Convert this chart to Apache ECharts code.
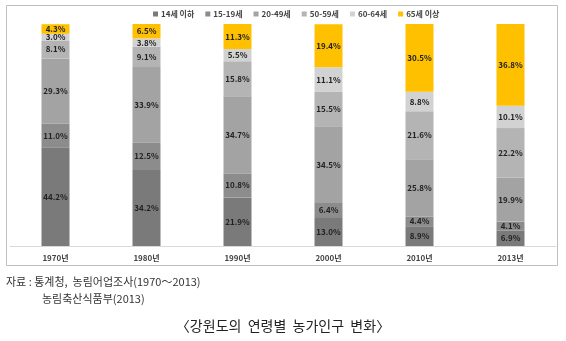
<!DOCTYPE html>
<html><head><meta charset="utf-8">
<script src="https://cdn.jsdelivr.net/npm/echarts@6/dist/echarts.min.js"></script>
<style>html,body{margin:0;padding:0;background:#fff}#c{width:566px;height:341px}</style>
</head><body><div id="c"></div>
<script>
const categories = ['1970년','1980년','1990년','2000년','2010년','2013년'];
const seriesNames = ['14세 이하','15-19세','20-49세','50-59세','60-64세','65세 이상'];
const age14 = [44.2, 34.2, 21.9, 13.0, 8.9, 6.9];
const age15_19 = [11.0, 12.5, 10.8, 6.4, 4.4, 4.1];
const age20_49 = [29.3, 33.9, 34.7, 34.5, 25.8, 19.9];
const age50_59 = [8.1, 9.1, 15.8, 15.5, 21.6, 22.2];
const age60_64 = [3.0, 3.8, 5.5, 11.1, 8.8, 10.1];
const age65 = [4.3, 6.5, 11.3, 19.4, 30.5, 36.8];
const values = [age14, age15_19, age20_49, age50_59, age60_64, age65];
const colors = ['#7a7a7a','#8c8c8c','#a3a3a3','#b4b4b4','#d2d2d2','#ffc000'];
const font = '"Noto Sans CJK KR", "Noto Sans", sans-serif';

const chart = echarts.init(document.getElementById('c'));
chart.setOption({
  animation: false,
  textStyle: { fontFamily: font },
  legend: {
    top: 5, left: 148, itemWidth: 5, itemHeight: 5, itemGap: 11,
    icon: 'rect',
    textStyle: { fontSize: 8, color: '#444', fontWeight: 'bold', fontFamily: font, padding: [0,0,0,-2] },
    data: seriesNames
  },
  grid: { left: 10, right: 10, top: 24, bottom: 95 },
  xAxis: {
    type: 'category', data: categories,
    axisLine: { lineStyle: { color: '#d9d9d9' } },
    axisTick: { show: false },
    axisLabel: { fontSize: 8, color: '#444', fontWeight: 'bold', margin: 8 }
  },
  yAxis: { type: 'value', min: 0, max: 100, show: false, splitLine: { show: false } },
  series: values.map((v, i) => ({
    name: seriesNames[i], type: 'bar', stack: 'a', barWidth: 28,
    itemStyle: { color: colors[i] },
    label: { show: true, position: 'inside', formatter: p => p.value.toFixed(1) + '%', fontSize: 8, fontWeight: 'bold', color: '#222' },
    data: v
  })),
  graphic: [
    { type: 'rect', shape: { x: 6.5, y: 5.5, width: 551, height: 260 }, style: { fill: 'none', stroke: '#bfbfbf', lineWidth: 1 }, z: 0 },
    { type: 'text', left: 6, top: 276, style: { text: '자료 : 통계청,  농림어업조사(1970～2013)', fontSize: 11, fill: '#333', fontFamily: font } },
    { type: 'text', left: 42, top: 293, style: { text: '농림축산식품부(2013)', fontSize: 11, fill: '#333', fontFamily: font } },
    { type: 'text', left: 'center', top: 319, style: { text: '〈강원도의  연령별  농가인구  변화〉', fontSize: 14, fill: '#222', fontFamily: font, letterSpacing: 1 } }
  ]
});
</script></body></html>
